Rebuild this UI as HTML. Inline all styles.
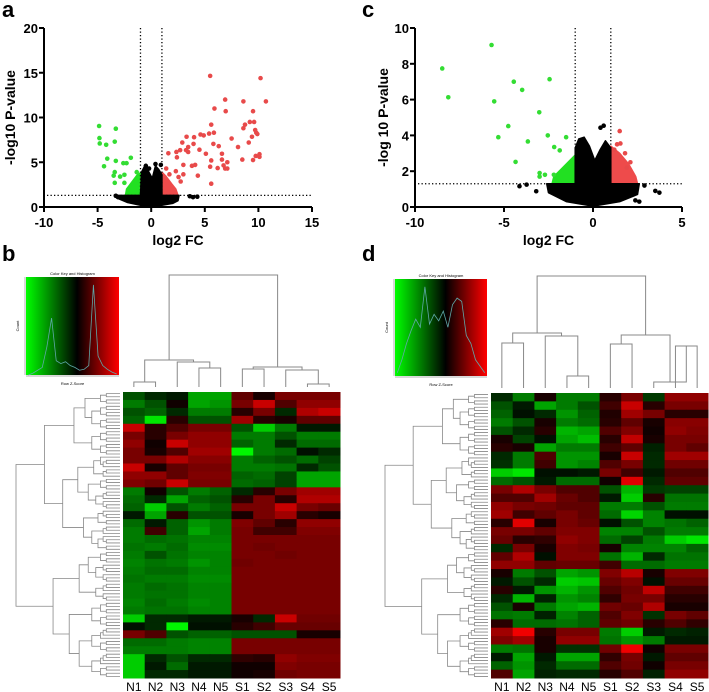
<!DOCTYPE html>
<html><head><meta charset="utf-8">
<style>
html,body{margin:0;padding:0;background:#fff;}
svg{display:block;font-family:"Liberation Sans",Arial,sans-serif;}
</style></head>
<body>
<svg id="fig" width="709" height="692" viewBox="0 0 709 692" xmlns="http://www.w3.org/2000/svg">
<defs>
<linearGradient id="keygrad" x1="0" x2="1" y1="0" y2="0">
<stop offset="0" stop-color="#00ff00"/><stop offset="0.55" stop-color="#000"/><stop offset="1" stop-color="#ff0000"/>
</linearGradient>
</defs>
<text x="2" y="17" font-size="22" font-weight="bold">a</text>
<text x="362" y="17" font-size="22" font-weight="bold">c</text>
<text x="2" y="261" font-size="22" font-weight="bold">b</text>
<text x="362" y="261" font-size="22" font-weight="bold">d</text>
<g id="pa"></g>
<g id="pc"></g>
<g id="hb"></g>
<g id="hd"></g>
</svg>
<script>
// ---------- volcano data ----------
const aGreenX=[-4.86,-3.3,-4.83,-4.8,-4.2,-3.4,-3.3,-4.1,-4.4,-2.6,-2.3,-1.9,-3.4,-3.5,-2.5,-3.4,-2.5,-2.9,-1.35];
const aGreenY=[9.05,8.75,7.7,7.1,6.95,7.3,5.15,5.4,4.55,4.9,4.9,5.5,3.9,3.5,3.6,2.7,2.7,3.4,3.9];
const aRedX=[5.5,10.2,10.7,6.9,8.6,5.9,6.95,9.5,9.2,8.75,9.6,8.6,5.6,3.3,4,4.6,4.9,5.4,5.85,7.5,9.7,9.8,9.9,9.4,9.1,2.9,6.3,5.8,3.95,3.45,8.1,4.5,2.7,3.25,2.35,5.1,6.6,1.6,3.45,2.4,5.6,6.6,8.5,9.5,9.75,10.1,10.1,7.1,4.1,3.8,3,5.5,6.2,6.75,6.9,7.1,2.3,1.7,3,2.55,4.35,2.75,5.6,1.4];
const aRedY=[14.65,14.4,11.8,12,11.8,11,10.7,10.7,9.5,9.2,9.5,8.8,9.2,7.85,7.8,8.1,8,8.2,8.3,7.65,8.6,8.3,8.15,7.85,7.2,7.2,6.8,7.05,7.05,6.7,6.7,6.4,6.35,6.35,6.15,5.95,5.95,6,6.15,5.55,5.2,5.3,5.3,5.25,5.7,5.9,5.6,5,4.7,4.6,4.7,4.5,4.35,4.65,4.3,4.3,4,3.65,3.65,3.35,3.5,2.85,2.6,4.3];
const aBlackX=[3.6,3.9,4.3,-3.3,-3.1,-0.5,0.4,0.9,-0.2];
const aBlackY=[1.2,1.1,1.15,1.25,1.1,4.6,4.8,4.7,4.3];
const aBlackPoly=[[-3.4,1.3],[-3.0,0.9],[-2.2,0.5],[-1,0.2],[0,0.05],[1,0.2],[2,0.4],[2.5,0.7],[2.6,1.3],[1,1.3],[1,3.6],[0.7,4.2],[0.4,4.6],[0.1,3.2],[-0.3,4.1],[-0.6,4.6],[-0.9,3.9],[-1,1.3]];
const aGreenPoly=[[-2.4,1.3],[-2.3,2.0],[-1.8,2.8],[-1.3,3.6],[-1,3.8],[-1,1.3]];
const aRedPoly=[[1,1.3],[1,3.9],[1.4,3.4],[1.9,2.6],[2.3,2.0],[2.5,1.3]];
const aXTicks=[-10,-5,0,5,10,15];
const aYTicks=[0,5,10,15,20];

const cGreenX=[-5.7,-8.47,-8.13,-4.45,-3.98,-2.44,-5.55,-3.02,-4.76,-5.32,-2.54,-1.51,-3.66,-2.18,-1.87,-4.35,-3,-2.7,-2.2,-3];
const cGreenY=[9.05,7.74,6.13,7,6.54,7.14,5.9,5.29,4.52,3.9,4,3.9,3.66,3.35,3.16,2.52,1.9,1.8,1.8,1.7];
const cRedX=[1.5,1.35,1.54,1.8,2.1,1.2,1.9];
const cRedY=[4.24,3.5,3.55,3.0,2.5,3.2,2.2];
const cBlackX=[-4.13,-3.73,-3.19,0.6,0.42,3.5,3.73,2.89,2.38,2.6];
const cBlackY=[1.16,1.25,0.88,4.54,4.43,0.9,0.8,1.2,0.37,0.3];
const cBlackPoly=[[-2.6,1.3],[-2.5,0.8],[-1.5,0.3],[0,0.05],[1.5,0.3],[2.5,0.7],[2.6,1.3],[1,1.3],[1,3.3],[0.7,3.7],[0.4,3.2],[0.1,2.6],[-0.2,3.4],[-0.5,3.9],[-0.8,3.8],[-1,3.3],[-1,1.3]];
const cGreenPoly=[[-2.3,1.3],[-2.2,1.7],[-1.8,2.1],[-1.3,2.6],[-1,2.9],[-1,1.3]];
const cRedPoly=[[1,1.3],[1,3.4],[1.5,3.0],[2.0,2.4],[2.4,1.7],[2.5,1.3]];
const cXTicks=[-10,-5,0,5];
const cYTicks=[0,2,4,6,8,10];

// ---------- heatmap data ----------
const colLabels=["N1","N2","N3","N4","N5","S1","S2","S3","S4","S5"];
const bRows=[
[-1,-0.5,-0.3,-2,-2,1.2,0.3,1.5,1.5,1.5],
[-1.5,-1,0.2,-2,-1.8,1.5,2.5,1,1.8,1.8],
[-1,-1.2,-0.5,-1.5,-1.5,0.5,1.5,-0.5,2.2,2.5],
[-1.2,-2.8,0.5,-1,-1,2,0.5,0.3,1.2,1.2],
[2.5,0.5,1,1.5,1.5,-1,-2.5,-1.5,-0.3,-0.3],
[1.5,0.5,1.5,1.8,1.8,-1.5,-1.5,-1,-1.5,-1.5],
[1.8,0.2,2.5,1.8,1.8,-1.2,-1.5,-0.5,-1.3,-1.3],
[1.5,0.3,1,2,2,-3,-1.5,-1.3,-0.2,-0.5],
[1.5,1.5,2.2,1.7,1.7,-1.5,-1.2,-1,-1.3,-0.8],
[2.5,0.3,1.2,1.5,1.5,-1.5,-1.5,-1.4,-0.5,-1],
[1.8,1.8,1.2,1.6,1.6,-1.2,-1.3,-0.8,-2,-2],
[1.6,1.4,2.5,1.5,1.5,-1.3,-1.2,-0.8,-2,-2],
[-1.5,0.2,-1,-1.5,-1.2,-0.5,0.5,1.5,2,2],
[-1.3,-0.5,-2,-1.2,-1,0.5,1.5,0.5,2.2,2.2],
[-1.2,-2.5,-1,-1.5,-1.2,1.5,1.5,2.5,1.5,1.3],
[-0.3,-2,0.5,-1,-1,0.3,1.5,2,0.5,0.3],
[-1.3,-0.3,-1.2,-1.8,-1.5,1.6,1.2,0.5,1.8,1.8],
[-1.5,0.8,-1.2,-2,-1.5,1.5,0.8,0.8,1.6,1.6],
[-1.5,-1.3,-1.4,-1.6,-1.6,1.5,1.5,1.5,1.5,1.5],
[-1.4,-1.5,-1.3,-1.7,-1.7,1.5,1.4,1.5,1.5,1.5],
[-1.5,-1,-1.4,-1.6,-1.6,1.5,1.5,1.4,1.5,1.5],
[-1.6,-1.4,-1.5,-1.8,-1.6,1.4,1.5,1.5,1.5,1.5],
[-1.5,-1.3,-1.3,-1.6,-1.6,1.5,1.5,1.5,1.5,1.5],
[-1.4,-1.5,-1.5,-1.7,-1.7,1.5,1.5,1.5,1.5,1.5],
[-1.5,-1.3,-1.4,-1.6,-1.6,1.5,1.5,1.5,1.5,1.5],
[-1.5,-1.4,-1.4,-1.6,-1.6,1.5,1.5,1.5,1.5,1.5],
[-1.6,-1.3,-1.5,-1.7,-1.6,1.5,1.5,1.5,1.5,1.5],
[-1.5,-1.4,-1.4,-1.6,-1.6,1.5,1.5,1.5,1.5,1.5],
[-2.5,-0.5,-0.5,-0.3,-0.3,0.3,-0.5,2.5,1.4,1.4],
[-0.2,-0.5,-3,-0.2,-0.2,0.5,0.8,1.3,1.3,1.3],
[1.5,1,-1,-1.2,-1.2,-1,-1,-1,0.3,0.3],
[-1.3,-1.3,-1.5,-1.6,-1.6,1.5,1.5,1.5,1.5,1.5],
[-1.5,-1.5,-1.5,-1.6,-1.6,1.5,1.5,1.5,1.5,1.5],
[-2.5,-0.5,-1,-0.5,-0.5,0.6,0.5,1.8,1.6,1.6],
[-2.5,-0.3,-1.3,-0.3,-0.3,0.2,0.2,1.6,1.5,1.5],
[-2.5,-0.5,-0.5,-0.3,-0.3,0.2,0.3,1.4,1.5,1.5]];
const dRows=[
[-0.5,-1.5,0.3,-1.5,-1.5,0.5,1.5,-0.7,1.8,1.8],
[-1,-0.3,-2,-1.5,-1,0.8,2.5,0.5,1.5,1.5],
[-1.2,-0.2,-0.5,-1.8,-1.2,0.4,2,1.5,0.5,0.5],
[-1.5,-1,0.3,-1.5,-1.3,0.5,1.2,0.3,1.7,1.7],
[-1,-0.5,0.5,-2.2,-2,1,1.6,0.2,1.8,1.6],
[0.3,-0.8,-0.2,-2,-2.3,0.5,2.4,0.3,1.5,1.5],
[0.5,0.3,-2,-1.5,-1.5,0.8,1.2,-0.4,1.5,1.2],
[-0.5,-1.5,1,-1.8,-1.8,0.3,2.5,-0.5,2,2],
[-0.6,-1.5,0.8,-1.8,-1.6,1,1.5,-0.5,1.4,1.4],
[-2.5,-2.8,-0.2,-0.2,-0.3,1.5,0.8,-0.3,1,1],
[-1.3,-1,-0.3,-1.3,-1.3,0.2,2.8,-0.5,1.2,1.2],
[1.5,2.2,1.5,1,1,-1,-2.2,-0.7,-0.8,-0.8],
[1,1,2,1.3,1,-0.3,-2.5,0.5,-1.4,-1.4],
[1.8,1.5,1.4,1.2,1.2,-1.5,-1.5,-1,-1.5,-1.5],
[2,0.8,1.2,1.5,1.2,-1.3,-2.6,-1.6,-0.2,-0.2],
[0.5,2.8,0.3,1.5,1.3,-0.2,-1,-1.6,-1.4,-1.2],
[1.5,1.5,1.2,1.6,1.6,-1.6,-1.6,-1,-1.5,-1.5],
[1.3,0.5,0.6,1.8,1.6,-1.3,-0.8,-1.5,-2.5,-2.8],
[-0.5,1.5,0.3,1.6,1.5,0.3,-1.6,-1.6,-1.6,-1.2],
[1.2,2.2,-0.2,1.6,1.6,-1.4,-2.2,-0.5,-1.4,-1.4],
[1.8,1.8,1.2,1.3,1.3,0.8,-1.3,-1.3,-1.5,-1.5],
[0.3,-1.5,-1,-2,-1.8,1.6,2.3,0.3,1.6,1.6],
[-0.3,-1,-0.5,-2.5,-2.4,1.3,1.6,-0.2,1.3,1.3],
[0.5,-0.3,-1.8,-2.2,-1.8,1,1.4,2.4,0.8,0.8],
[-0.5,-2.2,-0.4,-1.8,-1.6,0.6,1.5,1.5,0.5,0.5],
[-1,0.3,-1.5,-2,-2.2,1.4,1.3,2.2,0.3,0.3],
[-1.4,-1.5,-0.4,-1.6,-1.2,1,1.6,-0.6,1.5,1.2],
[0.5,-1.3,-1.3,-1.4,-1.2,1.2,1.4,0.5,1,0.6],
[2,3,0.5,1.5,1.5,-1.5,-2.5,-0.3,-0.5,-0.4],
[1.6,2,0.3,1.8,1.8,-1.4,-1.8,-1.5,-0.3,-0.3],
[-1.5,-1.4,0.3,-0.6,-0.6,1.4,3,0.2,1.5,1.5],
[-0.3,-2,-0.3,-2,-2,0.6,1.5,-0.3,1.2,1.2],
[-1.2,-1.8,-0.5,-1.3,-1.3,1,1.4,0.2,1.5,1.5],
[1,-2,-0.4,-0.5,-0.5,0.5,1,-0.4,1.8,1.8]];
// column dendrogram merge heights (pixel y of each merge, ordered)
const bMergeY=[382,368,362,360,384,370,369,367,275];
const dMergeY=[343,376,336,333,346,382,344,335,276];
const bHist=[0,2,5,8,30,60,15,12,14,10,8,5,6,10,95,20,10,6,3,1];
const dHist=[2,10,20,28,35,30,55,32,38,34,40,30,44,48,46,25,20,10,6,2];

const NS="http://www.w3.org/2000/svg";
function el(p,tag,attrs){const e=document.createElementNS(NS,tag);for(const k in attrs)e.setAttribute(k,attrs[k]);p.appendChild(e);return e;}

function volcano(gid,o){
  const g=document.getElementById(gid);
  const sx=v=>o.x0+(v-o.xmin)/(o.xmax-o.xmin)*(o.x1-o.x0);
  const sy=v=>o.y0-(v-o.ymin)/(o.ymax-o.ymin)*(o.y0-o.y1);
  const poly=(pts,fill,name)=>{const p=el(g,'polygon',{points:pts.map(q=>sx(q[0])+','+sy(q[1])).join(' '),fill:fill,stroke:fill,'stroke-width':1.5,'stroke-linejoin':'round'});
    
    };
  poly(o.greenPoly,'#22e022','green-dense-points');
  poly(o.redPoly,'#ee4b4b','red-dense-points');
  poly(o.blackPoly,'#000','nonsignificant-points');
  const pts=(xs,ys,fill,name)=>{for(let i=0;i<xs.length;i++){const c=el(g,'circle',{cx:sx(xs[i]),cy:sy(ys[i]),r:2.3,fill:fill});
    
    }};
  pts(o.bx,o.by,'#000','nonsignificant-point');
  pts(o.gx,o.gy,'#33dd33','downregulated-point');
  pts(o.rx,o.ry,'#e84a4a','upregulated-point');
  [-1,1].forEach(v=>{const l=el(g,'line',{x1:sx(v),x2:sx(v),y1:o.y1,y2:sy(o.vlineLow),stroke:'#000','stroke-width':1.3,'stroke-dasharray':'1.3,2.2'});
    
    });
  const h=el(g,'line',{x1:o.x0+3,x2:sx(o.hEnd),y1:sy(1.3),y2:sy(1.3),stroke:'#000','stroke-width':1.3,'stroke-dasharray':'1.3,2.2'});
  
  
  const ax=el(g,'path',{d:`M${o.x0},${o.y1} V${o.y0} H${o.x1}`,fill:'none',stroke:'#000','stroke-width':2});
  
  
  o.xt.forEach(v=>{el(g,'line',{x1:sx(v),x2:sx(v),y1:o.y0,y2:o.y0+5,stroke:'#000','stroke-width':2});
    const t=el(g,'text',{x:sx(v),y:o.y0+20,'font-size':13,'font-weight':'bold','text-anchor':'middle'});t.textContent=v;
    
    });
  o.yt.forEach(v=>{el(g,'line',{x1:o.x0-5,x2:o.x0,y1:sy(v),y2:sy(v),stroke:'#000','stroke-width':2});
    const t=el(g,'text',{x:o.x0-6,y:sy(v)+5,'font-size':13,'font-weight':'bold','text-anchor':'end'});t.textContent=v;
    
    });
  const xl=el(g,'text',{x:(o.x0+o.x1)/2,y:o.y0+38,'font-size':14,'font-weight':'bold','text-anchor':'middle'});xl.textContent='log2 FC';
  
  
  const yl=el(g,'text',{x:0,y:0,'font-size':14,'font-weight':'bold','text-anchor':'middle',transform:`translate(${o.ylx},${(o.y0+o.y1)/2}) rotate(-90)`});yl.textContent=o.ylabel;
  
  
}
volcano('pa',{x0:44,x1:312,y0:207,y1:28,xmin:-10,xmax:15,ymin:0,ymax:20,xt:aXTicks,yt:aYTicks,
  gx:aGreenX,gy:aGreenY,rx:aRedX,ry:aRedY,bx:aBlackX,by:aBlackY,blackPoly:aBlackPoly,greenPoly:aGreenPoly,redPoly:aRedPoly,vlineLow:0.5,hEnd:15,ylabel:'-log10 P-value',ylx:15});
volcano('pc',{x0:415,x1:682,y0:207,y1:28,xmin:-10,xmax:5,ymin:0,ymax:10,xt:cXTicks,yt:cYTicks,
  gx:cGreenX,gy:cGreenY,rx:cRedX,ry:cRedY,bx:cBlackX,by:cBlackY,blackPoly:cBlackPoly,greenPoly:cGreenPoly,redPoly:cRedPoly,vlineLow:0.5,hEnd:5,ylabel:'-log 10 P-value',ylx:388});

function heatColor(v){v=Math.max(-3,Math.min(3,v));
  if(v>=0)return `rgb(${Math.round(v*80)},0,0)`;return `rgb(0,${Math.round(-v*82)},0)`;}

function heatmap(gid,o){
  const g=document.getElementById(gid);
  const rows=o.rows,nc=colLabels.length,cw=(o.x1-o.x0)/nc,rh=(o.y1-o.y0)/rows.length;
  rows.forEach((r,i)=>r.forEach((v,j)=>{const c=el(g,'rect',{x:o.x0+j*cw,y:o.y0+i*rh,width:cw+0.5,height:rh+0.5,fill:heatColor(v)});
    
    }));
  colLabels.forEach((s,j)=>{const t=el(g,'text',{x:o.x0+(j+0.5)*cw,y:691,'font-size':12,'text-anchor':'middle'});t.textContent=s;
    
    });
  const m=o.merge,leafY=o.y0-5,cx=j=>o.x0+(j+0.5)*cw;
  const st='#888';let d='';
  const link=(xa,ya,xb,yb,y)=>{d+=`M${xa},${ya}V${y}H${xb}V${yb}`;return [(xa+xb)/2,y];};
  const A=link(cx(0),leafY,cx(1),leafY,m[0]);
  const B=link(cx(3),leafY,cx(4),leafY,m[1]);
  const C=link(cx(2),leafY,B[0],B[1],m[2]);
  const L=link(A[0],A[1],C[0],C[1],m[3]);
  const D=link(cx(8),leafY,cx(9),leafY,m[4]);
  const E=link(cx(7),leafY,D[0],D[1],m[5]);
  const F=link(cx(5),leafY,cx(6),leafY,m[6]);
  const R=link(F[0],F[1],E[0],E[1],m[7]);
  link(L[0],L[1],R[0],R[1],m[8]);
  const cd=el(g,'path',{d:d,fill:'none',stroke:st,'stroke-width':1});
  
  
  const N=90,lx=o.x0-3,rootX=o.rootX,ly=i=>o.y0+(i+0.5)*(o.y1-o.y0)/N;
  const fr=[0.55,0.4,0.6,0.35,0.5,0.45,0.65];let k=0,rd='';
  function build(lo,hi){if(hi-lo===1)return [lx,ly(lo)];
    const s=lo+Math.max(1,Math.min(hi-lo-1,Math.round((hi-lo)*fr[(k++)%fr.length])));
    const a=build(lo,s),b=build(s,hi);
    const x=lx-(lx-rootX)*Math.pow((hi-lo)/N,0.55)-1;
    rd+=`M${a[0]},${a[1]}H${x}V${b[1]}H${b[0]}`;return [x,(a[1]+b[1])/2];}
  build(0,N);
  const rp=el(g,'path',{d:rd,fill:'none',stroke:st,'stroke-width':0.8});
  
  
  const k0=o.key;
  const kr=el(g,'rect',{x:k0.x,y:k0.y,width:k0.w,height:k0.h,fill:'url(#keygrad)'});
  
  
  const hmax=Math.max(...o.hist);
  const hp=o.hist.map((v,i)=>`${k0.x+(i+0.5)*k0.w/o.hist.length},${k0.y+k0.h-v/hmax*k0.h*0.92}`).join(' ');
  const hl=el(g,'polyline',{points:hp,fill:'none',stroke:'#5fa8a8','stroke-width':0.8});
  
  
  const t1=el(g,'text',{x:k0.x+k0.w/2,y:k0.y-2,'font-size':4,'text-anchor':'middle'});t1.textContent='Color Key and Histogram';
  
  
  const t2=el(g,'text',{x:k0.x+k0.w/2,y:k0.y+k0.h+10,'font-size':4,'text-anchor':'middle'});t2.textContent='Row Z-Score';
  
  
  const t3=el(g,'text',{x:0,y:0,'font-size':4,'text-anchor':'middle',transform:`translate(${k0.x-7},${k0.y+k0.h/2}) rotate(-90)`});t3.textContent='Count';
  
  
  const ka=el(g,'path',{d:`M${k0.x},${k0.y+k0.h+1}H${k0.x+k0.w}M${k0.x-1},${k0.y}V${k0.y+k0.h}`,stroke:'#666','stroke-width':0.5,fill:'none'});
  
  
}
heatmap('hb',{x0:123,x1:340,y0:392,y1:678,rows:bRows,merge:bMergeY,rootX:17,hist:bHist,key:{x:26,y:277,w:93,h:98}});
heatmap('hd',{x0:491,x1:708,y0:393,y1:678,rows:dRows,merge:dMergeY,rootX:386,hist:dHist,key:{x:395,y:279,w:92,h:97}});
</script>
</body></html>
